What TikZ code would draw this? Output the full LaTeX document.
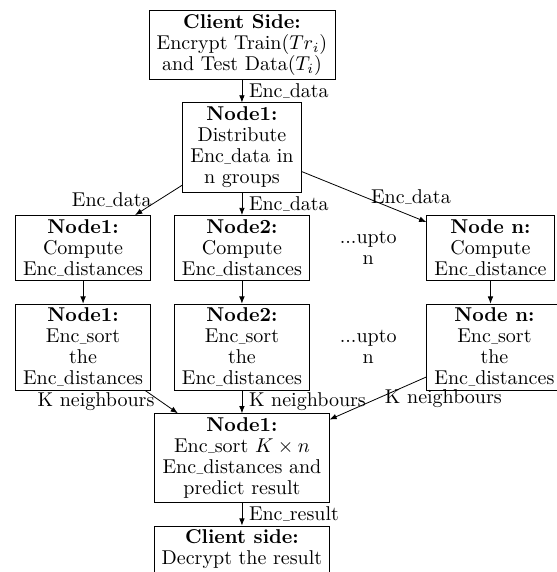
\documentclass[tikz,border=0pt]{standalone}
\usepackage{tikz}
\usetikzlibrary{arrows.meta,positioning}
\usepackage{amsmath,amssymb}
% short underscore, as in the original Computer Modern text
\newcommand{\usc}{\makebox[3.6pt][r]{\raisebox{0.8pt}{\scalebox{0.45}[1]{\_}}}}

\begin{document}
\begin{tikzpicture}[
    node distance=0.4cm,
    every node/.style={font=\fontsize{10}{10.5}\selectfont},
    box/.style={draw, align=center, inner xsep=3.85pt, inner ysep=2pt},
    uptonote/.style={align=center},
    flow/.style={-{Latex[length=3.6pt,width=2.8pt]}}
]
\node[box] (client) {\textbf{Client Side:}\\Encrypt Train($Tr_i$)\\and Test Data($T_i$)};
\node[box, below=of client] (dist) {\textbf{Node1:}\\Distribute\\Enc\usc data in\\n groups};
\node[box, below=of dist] (comp2) {\textbf{Node2:}\\Compute\\Enc\usc distances};
\node[box, left=of comp2] (comp1) {\textbf{Node1:}\\Compute\\Enc\usc distances};
\node[uptonote, right=of comp2] (upto1) {...upto\\n};
\node[box, right=of upto1] (compn) {\textbf{Node n:}\\Compute\\Enc\usc distance};
\node[box, below=of comp2] (sort2) {\textbf{Node2:}\\Enc\usc sort\\the\\Enc\usc distances};
\node[box, left=of sort2] (sort1) {\textbf{Node1:}\\Enc\usc sort\\the\\Enc\usc distances};
\node[uptonote, right=of sort2] (upto2) {...upto\\n};
\node[box, right=of upto2] (sortn) {\textbf{Node n:}\\Enc\usc sort\\the\\Enc\usc distances};
\node[box, below=of sort2] (final) {\textbf{Node1:}\\Enc\usc sort $K \times n$\\Enc\usc distances and\\predict result};
\node[box, below=of final] (result) {\textbf{Client side:}\\Decrypt the result};
\draw[flow] (client) -- node[right] {Enc\usc data} (dist);
\draw[flow] (dist) -- node[left] {Enc\usc data} (comp1);
\draw[flow] (dist) -- node[right] {Enc\usc data} (comp2);
\draw[flow] (dist) -- node[right] {Enc\usc data} (compn);
\draw[flow] (comp1) -- (sort1);
\draw[flow] (comp2) -- (sort2);
\draw[flow] (compn) -- (compn |- sortn.north);
\draw[flow] (sort1) -- node[left] {K neighbours} (final);
\draw[flow] (sort2) -- node[right] {K neighbours} (final);
\draw[flow] (sortn) -- node[right] {K neighbours} (final);
\draw[flow] (final) -- node[right] {Enc\usc result} (result);
% crop as in the original figure
\path (comp1.west |- client.north) ++(-7.5pt,5pt) coordinate (topleft);
\pgfresetboundingbox
\useasboundingbox (topleft) rectangle ++(278pt,-286pt);
\end{tikzpicture}
\end{document}
